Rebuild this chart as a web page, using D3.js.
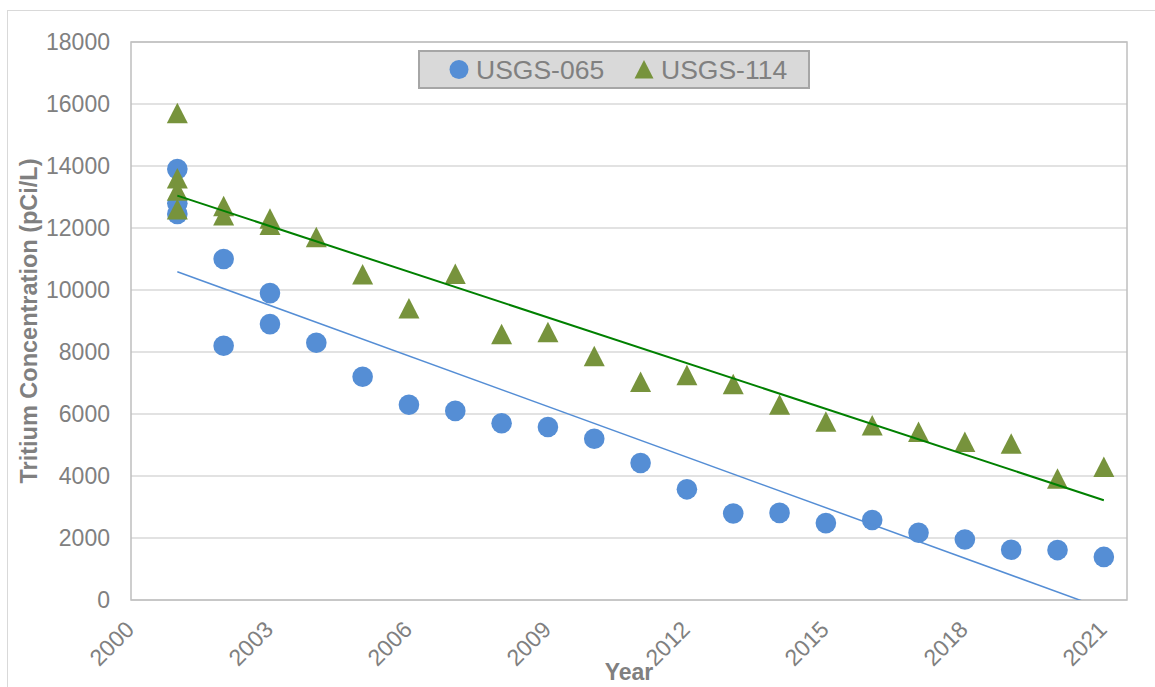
<!DOCTYPE html>
<html>
<head>
<meta charset="utf-8">
<script src="https://cdn.jsdelivr.net/npm/d3@7"></script>
<style>
  body { margin: 0; background: #fff; }
  text { font-family: "Liberation Sans", Arial, sans-serif; }
</style>
</head>
<body>
<div id="chart"></div>
<script>
// sample years and tritium values
const years065 = [2001, 2001, 2001, 2002, 2002, 2003, 2003, 2004, 2005, 2006, 2007, 2008, 2009,
    2010, 2011, 2012, 2013, 2014, 2015, 2016, 2017, 2018, 2019, 2020, 2021];
const usgs065 = [13900, 12800, 12450, 11000, 8200, 9900, 8900, 8300, 7200, 6300, 6100, 5700, 5580,
    5200, 4420, 3570, 2790, 2810, 2480, 2580, 2170, 1950, 1620, 1610, 1390];

const years114 = [2001, 2001, 2001, 2001, 2002, 2002, 2003, 2003, 2004, 2005, 2006, 2007, 2008, 2009,
    2010, 2011, 2012, 2013, 2014, 2015, 2016, 2017, 2018, 2019, 2020, 2021];
const usgs114 = [15700, 13600, 13200, 12600, 12700, 12400, 12300, 12100, 11700, 10500, 9400, 10520, 8575, 8635,
    7865, 7030, 7250, 6960, 6300, 5750, 5630, 5420, 5100, 5040, 3910, 4290];

const xTicks = [2000, 2003, 2006, 2009, 2012, 2015, 2018, 2021];
const yTicks = [0, 2000, 4000, 6000, 8000, 10000, 12000, 14000, 16000, 18000];
const seriesNames = ["USGS-065", "USGS-114"];

const width = 1155, height = 687;
const plotLeft = 131, plotRight = 1127, plotTop = 42, plotBottom = 600;
const blue = "#558ed5", olive = "#77933c", trendGreen = "#008000";
const textGray = "#808080";

const svg = d3.select("#chart")
    .append("svg")
    .attr("width", width)
    .attr("height", height);

// outer chart frame
svg.append("rect")
    .attr("x", 7.5).attr("y", 10.5)
    .attr("width", 1160).attr("height", 700)
    .attr("fill", "#fff")
    .attr("stroke", "#d9d9d9")
    .attr("stroke-width", 1);

const x = d3.scaleLinear().domain([2000, 2021.5]).range([plotLeft, plotRight]);
const y = d3.scaleLinear().domain([0, 18000]).range([plotBottom, plotTop]);

// gridlines
svg.append("g")
    .selectAll("line")
    .data(yTicks)
    .join("line")
    .attr("x1", plotLeft).attr("x2", plotRight)
    .attr("y1", d => y(d)).attr("y2", d => y(d))
    .attr("stroke", "#d9d9d9")
    .attr("stroke-width", 1.5);

// plot frame
svg.append("rect")
    .attr("x", plotLeft).attr("y", plotTop)
    .attr("width", plotRight - plotLeft).attr("height", plotBottom - plotTop)
    .attr("fill", "none")
    .attr("stroke", "#bfbfbf")
    .attr("stroke-width", 1.5);

// y axis labels
const yAxis = svg.append("g")
    .attr("transform", `translate(${plotLeft},0)`)
    .call(d3.axisLeft(y).tickValues(yTicks).tickSize(0).tickPadding(21).tickFormat(d3.format("d")));
yAxis.select(".domain").remove();
yAxis.selectAll("text")
    .attr("fill", textGray)
    .style("font-size", "23px")
    .style("font-family", "'Liberation Sans', Arial, sans-serif");

// x axis labels, rotated
const xAxis = svg.append("g")
    .attr("transform", `translate(0,${plotBottom})`)
    .call(d3.axisBottom(x).tickValues(xTicks).tickSize(0).tickFormat(d3.format("d")));
xAxis.select(".domain").remove();
xAxis.selectAll("text")
    .attr("fill", textGray)
    .style("font-size", "23px")
    .style("font-family", "'Liberation Sans', Arial, sans-serif")
    .attr("text-anchor", "end")
    .attr("dy", null)
    .attr("y", null)
    .attr("transform", "translate(4,31) rotate(-45)");

// axis titles
svg.append("text")
    .attr("transform", `translate(37,${(plotTop + plotBottom) / 2}) rotate(-90)`)
    .attr("text-anchor", "middle")
    .attr("fill", textGray)
    .style("font-size", "23.5px")
    .style("font-weight", "bold")
    .text("Tritium Concentration (pCi/L)");

svg.append("text")
    .attr("x", (plotLeft + plotRight) / 2)
    .attr("y", 680)
    .attr("text-anchor", "middle")
    .attr("fill", textGray)
    .style("font-size", "23px")
    .style("font-weight", "bold")
    .text("Year");

svg.append("clipPath")
    .attr("id", "plot-clip")
    .append("rect")
    .attr("x", plotLeft).attr("y", plotTop)
    .attr("width", plotRight - plotLeft).attr("height", plotBottom - plotTop);

function linearFit(xs, ys) {
    const mx = d3.mean(xs), my = d3.mean(ys);
    const sxy = d3.sum(xs, (v, i) => (v - mx) * (ys[i] - my));
    const sxx = d3.sum(xs, v => (v - mx) * (v - mx));
    const slope = sxy / sxx;
    return v => my + slope * (v - mx);
}

const tri = "M0,-10.5L10.5,10L-10.5,10Z";

const marks = svg.append("g");

marks.selectAll("circle")
    .data(years065.map((yr, i) => [yr, usgs065[i]]))
    .join("circle")
    .attr("cx", d => x(d[0]))
    .attr("cy", d => y(d[1]))
    .attr("r", 10.3)
    .attr("fill", blue);

marks.selectAll("path.tri")
    .data(years114.map((yr, i) => [yr, usgs114[i]]))
    .join("path")
    .classed("tri", true)
    .attr("d", tri)
    .attr("transform", d => `translate(${x(d[0])},${y(d[1])})`)
    .attr("fill", olive);

// linear trendlines
const trends = [
    {xs: years065, ys: usgs065, color: blue, w: 1.5},
    {xs: years114, ys: usgs114, color: trendGreen, w: 2}
];
const trendG = svg.append("g").attr("clip-path", "url(#plot-clip)");
for (const t of trends) {
    const f = linearFit(t.xs, t.ys);
    const x0 = d3.min(t.xs), x1 = d3.max(t.xs);
    trendG.append("line")
        .attr("x1", x(x0)).attr("y1", y(f(x0)))
        .attr("x2", x(x1)).attr("y2", y(f(x1)))
        .attr("stroke", t.color)
        .attr("stroke-width", t.w);
}

// legend
const legend = svg.append("g");
legend.append("rect")
    .attr("x", 419).attr("y", 51)
    .attr("width", 390).attr("height", 37)
    .attr("fill", "#d9d9d9")
    .attr("stroke", "#a6a6a6")
    .attr("stroke-width", 2);
legend.append("circle")
    .attr("cx", 459).attr("cy", 69.5).attr("r", 9.5)
    .attr("fill", blue);
legend.append("path")
    .attr("d", "M0,-9.5L9.5,9L-9.5,9Z")
    .attr("transform", "translate(644,69.5)")
    .attr("fill", olive);
legend.selectAll("text.leg")
    .data(seriesNames)
    .join("text")
    .classed("leg", true)
    .attr("x", (d, i) => i === 0 ? 476 : 661)
    .attr("y", 79)
    .attr("fill", textGray)
    .style("font-size", "26.5px")
    .text(d => d);
</script>
</body>
</html>
